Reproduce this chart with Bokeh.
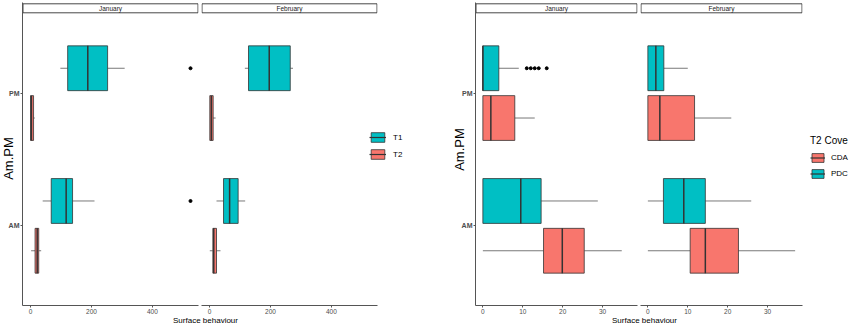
import math
from bokeh.plotting import figure
from bokeh.models import Range1d, FixedTicker, Legend, LegendItem, ColumnDataSource
from bokeh.layouts import row, column
from bokeh.embed import file_html
from bokeh.resources import INLINE
from bokeh.core.properties import value

# ---------------- data ----------------
TIMES = ["AM", "PM"]            # y categories (bottom -> top)
MONTHS = ["January", "February"]
X_LABEL = "Surface behaviour"
Y_LABEL = "Am.PM"

# Left chart: T1 / T2 ; every list is [AM, PM]
T1_JAN = dict(lo=[40, 98], q1=[68, 122], med=[117, 188], q3=[138, 253], hi=[210, 309])
T2_JAN = dict(lo=[2, 0], q1=[15, 0], med=[22, 3], q3=[27, 10], hi=[35, 14])
T1_FEB = dict(lo=[23, 116], q1=[46, 128], med=[66, 196], q3=[94, 265], hi=[117, 274])
T2_FEB = dict(lo=[1, 1], q1=[11, 1], med=[14, 6], q3=[23, 12], hi=[36, 20])
T1_JAN_OUT_TIME = ["AM", "PM"]
T1_JAN_OUT_X = [525, 525]
LEFT_TICKS = [0, 200, 400]
LEFT_GROUPS = ["T1", "T2"]

# Right chart: CDA / PDC ; every list is [AM, PM]
PDC_JAN = dict(lo=[0, 0], q1=[0, 0], med=[9.5, 0], q3=[14.6, 4], hi=[28.8, 9])
CDA_JAN = dict(lo=[0, 0], q1=[15.2, 0], med=[19.9, 2], q3=[25.4, 8], hi=[34.8, 13])
PDC_FEB = dict(lo=[0, 0], q1=[3.9, 0], med=[9, 2], q3=[14.4, 4], hi=[25.9, 10])
CDA_FEB = dict(lo=[0, 0], q1=[10.6, 0], med=[14.4, 3], q3=[22.7, 11.7], hi=[36.9, 20.9])
PDC_JAN_OUT_TIME = ["PM", "PM", "PM", "PM", "PM"]
PDC_JAN_OUT_X = [11, 12, 13, 14, 16]
RIGHT_TICKS = [0, 10, 20, 30]
RIGHT_GROUPS = ["CDA", "PDC"]
RIGHT_LEGEND_TITLE = "T2 Cove"

CYAN = "#00BFC4"
RED = "#F8766D"
OUTLINE = "#333333"
FONT = "Liberation Sans"

# ---------------- layout constants ----------------
W, H = 850, 324
FR_TOP = 2        # frame top (px)
FR_BOT = 305      # frame bottom (px)
PANEL_TOP = 13    # top of data panel (below facet strip)
Y0, Y1 = 0.4, 2.6
PXU = (FR_BOT - PANEL_TOP) / (Y1 - Y0)
YTOP = Y1 + (PANEL_TOP - FR_TOP) / PXU
DODGE = 0.1875
BOX_H = 0.3375
YPOS = {t: i + 1 for i, t in enumerate(TIMES)}
NAN = float("nan")


def xrange_for(values):
    mx = max(values)
    return (-0.05 * mx, 1.05 * mx)


left_all = []
for d in (T1_JAN, T2_JAN, T1_FEB, T2_FEB):
    left_all += d["lo"] + d["hi"]
left_all += T1_JAN_OUT_X
right_all = []
for d in (PDC_JAN, CDA_JAN, PDC_FEB, CDA_FEB):
    right_all += d["lo"] + d["hi"]
right_all += PDC_JAN_OUT_X
LXR = xrange_for(left_all)
RXR = xrange_for(right_all)


def style_axis(a, size, bold=False):
    a.axis_line_color = "#555555"
    a.major_tick_line_color = "#555555"
    a.major_tick_out = 2
    a.major_tick_in = 0
    a.minor_tick_out = 0
    a.minor_tick_in = 0
    a.major_label_text_font = FONT
    a.major_label_text_font_size = size
    a.major_label_text_color = "#4D4D4D"
    if bold:
        a.major_label_text_font_style = "bold"


def make_panel(width, mbl, mbr, xr, ticks, month, show_y):
    p = figure(width=width, height=H, x_range=Range1d(*xr), y_range=Range1d(Y0, YTOP),
               output_backend="svg", toolbar_location=None,
               min_border_left=mbl, min_border_right=mbr,
               min_border_top=FR_TOP, min_border_bottom=H - FR_BOT,
               y_axis_location="left" if show_y else None)
    p.outline_line_color = None
    p.xgrid.visible = False
    p.ygrid.visible = False
    p.background_fill_color = "white"
    p.border_fill_color = "white"
    ax = p.xaxis[0]
    ax.ticker = FixedTicker(ticks=ticks)
    style_axis(ax, "6.5px")
    ax.major_label_standoff = 1
    if show_y:
        ay = p.yaxis[0]
        ay.ticker = FixedTicker(ticks=[YPOS[t] for t in TIMES])
        ay.major_label_overrides = {YPOS[t]: t for t in TIMES}
        style_axis(ay, "7px", bold=True)
        ay.major_label_standoff = 1
    # facet strip
    span = xr[1] - xr[0]
    xpx = span / (width - mbl - mbr)
    sb = Y1 + 0.7 / PXU
    st = YTOP - 1.3 / PXU
    p.quad(left=[xr[0] + 0.5 * xpx], right=[xr[1] - 0.5 * xpx], bottom=[sb], top=[st],
           fill_color="white", line_color=OUTLINE, line_width=0.9)
    p.text(x=[(xr[0] + xr[1]) / 2], y=[(sb + st) / 2], text=[month],
           text_align="center", text_baseline="middle",
           text_font=value(FONT), text_font_size="6.5px", text_color="#1A1A1A")
    return p


def draw_boxes(p, stats, offset, color):
    y = [YPOS[t] + offset for t in TIMES]
    src = ColumnDataSource(dict(
        y=y, y0=[v - BOX_H / 2 for v in y], y1=[v + BOX_H / 2 for v in y],
        lo=stats["lo"], q1=stats["q1"], med=stats["med"], q3=stats["q3"], hi=stats["hi"]))
    p.segment(x0="lo", y0="y", x1="q1", y1="y", source=src, line_color="#555555", line_width=0.8)
    p.segment(x0="q3", y0="y", x1="hi", y1="y", source=src, line_color="#555555", line_width=0.8)
    p.hbar(y="y", left="q1", right="q3", height=BOX_H, source=src,
           fill_color=color, line_color=OUTLINE, line_width=0.8)
    p.segment(x0="med", y0="y0", x1="med", y1="y1", source=src,
              line_color=OUTLINE, line_width=1.5)


def draw_outliers(p, times, xs, offset):
    p.scatter(x=xs, y=[YPOS[t] + offset for t in times], size=3,
              fill_color="black", line_color="black")


# ---------------- panels ----------------
pA = make_panel(200, 22, 2, LXR, LEFT_TICKS, MONTHS[0], True)
pB = make_panel(225, 1, 48, LXR, LEFT_TICKS, MONTHS[1], False)
draw_boxes(pA, T1_JAN, DODGE, CYAN)
draw_boxes(pA, T2_JAN, -DODGE, RED)
draw_outliers(pA, T1_JAN_OUT_TIME, T1_JAN_OUT_X, DODGE)
draw_boxes(pB, T1_FEB, DODGE, CYAN)
draw_boxes(pB, T2_FEB, -DODGE, RED)

pC = make_panel(213, 50, 1, RXR, RIGHT_TICKS, MONTHS[0], True)
pD = make_panel(212, 2, 48, RXR, RIGHT_TICKS, MONTHS[1], False)
draw_boxes(pC, PDC_JAN, DODGE, CYAN)
draw_boxes(pC, CDA_JAN, -DODGE, RED)
draw_outliers(pC, PDC_JAN_OUT_TIME, PDC_JAN_OUT_X, DODGE)
draw_boxes(pD, PDC_FEB, DODGE, CYAN)
draw_boxes(pD, CDA_FEB, -DODGE, RED)

# ---------------- transparent overlay for titles and legends ----------------
ov = figure(width=W, height=H, x_range=Range1d(0, W), y_range=Range1d(H, 0),
            output_backend="svg", toolbar_location=None, min_border=0,
            x_axis_location=None, y_axis_location=None, margin=(-H, 0, 0, 0))
ov.outline_line_color = None
ov.xgrid.visible = False
ov.ygrid.visible = False
ov.background_fill_alpha = 0
ov.border_fill_alpha = 0

ov.text(x=[8, 459], y=[158, 149], text=[Y_LABEL, Y_LABEL], angle=math.pi / 2,
        text_align="center", text_baseline="middle", text_font=value(FONT),
        text_font_size="13px", text_color="black")
ov.text(x=[205, 644], y=[320, 320], text=[X_LABEL, X_LABEL],
        text_align="center", text_baseline="alphabetic", text_font=value(FONT),
        text_font_size="8px", text_color="black")


def legend_key(color):
    # legend-only renderers: one NaN row, so nothing is drawn in the plot area
    b = ov.hbar(y=[NAN], left=[NAN], right=[NAN], height=1, fill_color=color,
                line_color=OUTLINE, line_width=0.8)
    m = ov.segment(x0=[NAN], y0=[NAN], x1=[NAN], y1=[NAN], line_color=OUTLINE, line_width=1.2)
    return [b, m]


legL = Legend(items=[LegendItem(label=LEFT_GROUPS[0], renderers=legend_key(CYAN)),
                     LegendItem(label=LEFT_GROUPS[1], renderers=legend_key(RED))],
              location=(369, 164), orientation="vertical", padding=0, margin=0,
              spacing=5, glyph_width=17, glyph_height=12, label_height=12,
              label_standoff=7, label_text_font=FONT, label_text_font_size="8px",
              label_text_color="black", border_line_color=None, background_fill_alpha=0)
ov.add_layout(legL)

legR = Legend(items=[LegendItem(label=RIGHT_GROUPS[0], renderers=legend_key(RED)),
                     LegendItem(label=RIGHT_GROUPS[1], renderers=legend_key(CYAN))],
              title=RIGHT_LEGEND_TITLE, title_text_font=FONT, title_text_font_size="10px",
              title_text_font_style="normal", title_text_color="black", title_standoff=6,
              location=(810, 145), orientation="vertical", padding=0, margin=0,
              spacing=5, glyph_width=15, glyph_height=11, label_height=11,
              label_standoff=6, label_text_font=FONT, label_text_font_size="8px",
              label_text_color="black", border_line_color=None, background_fill_alpha=0)
ov.add_layout(legR)

layout = column(row(pA, pB, pC, pD), ov)
open("out.html", "w").write(file_html(layout, INLINE))
